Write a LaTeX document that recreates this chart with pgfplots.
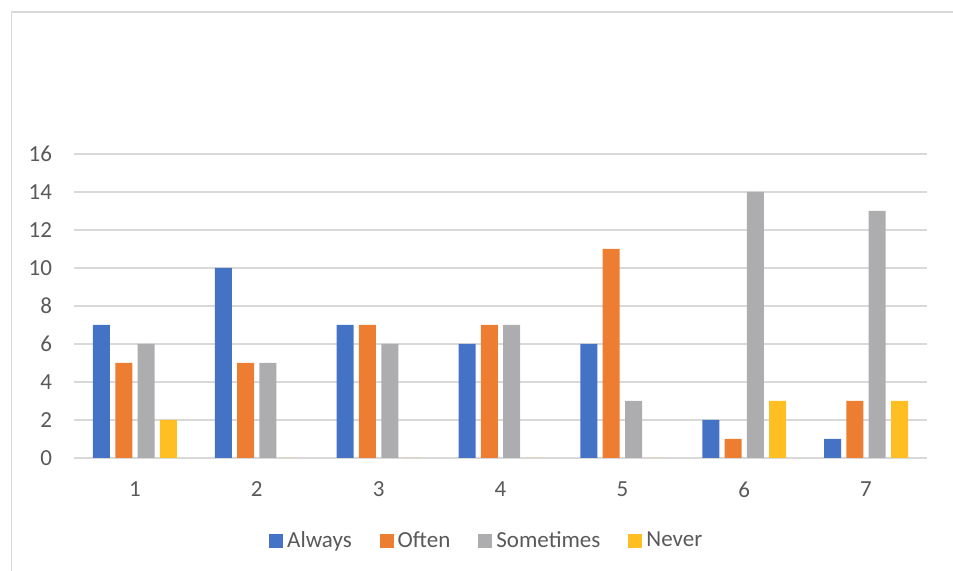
\documentclass[border=0pt]{standalone}
\usepackage{pgfplots}
\pgfplotsset{compat=1.18}
\usepackage{fontspec}
\setmainfont{Carlito}
\definecolor{cAlways}{HTML}{4472C4}
\definecolor{cOften}{HTML}{ED7D31}
\definecolor{cSome}{HTML}{ADADB0}
\definecolor{cNever}{HTML}{FFBF22}
\definecolor{gridc}{HTML}{D9D9D9}
\definecolor{txt}{HTML}{595959}
\begin{document}
\begin{tikzpicture}
\path[use as bounding box] (0,0) rectangle (476.5pt,285.5pt);
\draw[gridc, line width=0.8pt] (5.75pt,0) -- (5.75pt,279.5pt) -- (476.5pt,279.5pt);
\begin{axis}[
  at={(37pt,56.5pt)}, anchor=south west,
  scale only axis, width=426.5pt, height=152pt,
  xmin=0.5, xmax=7.5, ymin=0, ymax=16,
  ytick={0,2,...,16}, xtick={1,...,7},
  ybar=2.65pt, bar width=8.5pt,
  axis line style={draw=none},
  major tick length=0pt,
  ymajorgrids, grid style={gridc, line width=0.8pt},
  /pgf/number format/assume math mode=true,
  tick label style={font=\fontsize{11.5pt}{13pt}\selectfont, text=txt},
  yticklabel style={xshift=-7.5pt},
  xticklabel style={yshift=-8.5pt},
  legend columns=4,
  legend style={at={(0.485,-0.273)}, anchor=center, draw=none, fill=none,
    font=\fontsize{11.5pt}{13pt}\selectfont, text=txt,
    /tikz/every even column/.append style={column sep=12pt}},
  legend image code/.code={\fill[#1] (0pt,-3.5pt) rectangle (7pt,3.5pt);},
]
\addplot[fill=cAlways, draw=none] coordinates {(1,7) (2,10) (3,7) (4,6) (5,6) (6,2) (7,1)};
\addplot[fill=cOften, draw=none] coordinates {(1,5) (2,5) (3,7) (4,7) (5,11) (6,1) (7,3)};
\addplot[fill=cSome, draw=none] coordinates {(1,6) (2,5) (3,6) (4,7) (5,3) (6,14) (7,13)};
\addplot[fill=cNever, draw=none] coordinates {(1,2) (2,0) (3,0) (4,0) (5,0) (6,3) (7,3)};
\legend{Always, Often, Sometimes, Never}
\end{axis}
\end{tikzpicture}
\end{document}
